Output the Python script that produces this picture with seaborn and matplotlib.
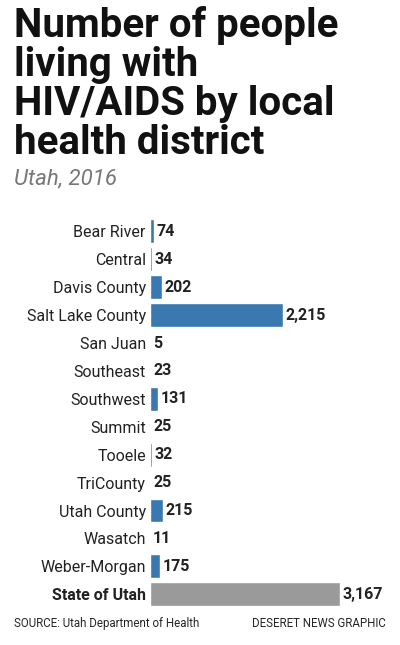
import matplotlib
matplotlib.use("Agg")
import matplotlib.pyplot as plt
import seaborn as sns
import pandas as pd
from matplotlib import font_manager

districts = ["Bear River", "Central", "Davis County", "Salt Lake County", "San Juan",
             "Southeast", "Southwest", "Summit", "Tooele", "TriCounty", "Utah County",
             "Wasatch", "Weber-Morgan", "State of Utah"]
people = [74, 34, 202, 2215, 5, 23, 131, 25, 32, 25, 215, 11, 175, 3167]

names = {f.name for f in font_manager.fontManager.ttflist}
narrow = "Liberation Sans Narrow" if "Liberation Sans Narrow" in names else "Roboto"

sns.set_theme(style="white")
plt.rcParams['font.family'] = [narrow, 'DejaVu Sans']

df = pd.DataFrame({"district": districts, "people": people})
colors = ["#3a78b0"] * 13 + ["#9a9a9a"]

fig = plt.figure(figsize=(4, 6.45), dpi=100)
ax = fig.add_axes([0.375, 0.057, 0.475, 0.606])
sns.barplot(data=df, y="district", x="people", hue="district", palette=colors,
            legend=False, ax=ax, width=0.85, saturation=1)
ax.set_xlim(0, 3167)
ax.set_ylim(13.5, -0.5)
ax.set_xlabel(""); ax.set_ylabel("")
ax.set_xticks([])
for s in ax.spines.values():
    s.set_visible(False)
ax.tick_params(axis="y", length=0, pad=3)
ax.set_yticklabels(districts, fontsize=11.5, color="#222222")
ax.get_yticklabels()[-1].set_fontweight("bold")
for i, v in enumerate(people):
    ax.text(v + 40, i, f"{v:,}", va="center", ha="left", fontsize=11.5,
            fontweight="bold", clip_on=False, color="#222222")

title = "Number of people\nliving with\nHIV/AIDS by local\nhealth district"
fig.text(0.035, 0.99, title, ha="left", va="top", fontsize=29, fontweight="bold",
         family=["Roboto", "DejaVu Sans"], linespacing=1.03, color="#111111")
fig.text(0.035, 0.722, "Utah, 2016", ha="left", va="center", fontsize=16,
         style="italic", color="#777777", family=["Roboto", "DejaVu Sans"])
fig.text(0.035, 0.034, "SOURCE: Utah Department of Health", fontsize=8.3, va="center")
fig.text(0.965, 0.034, "DESERET NEWS GRAPHIC", fontsize=8.3, va="center", ha="right")
fig.savefig("out.png", dpi=100)
